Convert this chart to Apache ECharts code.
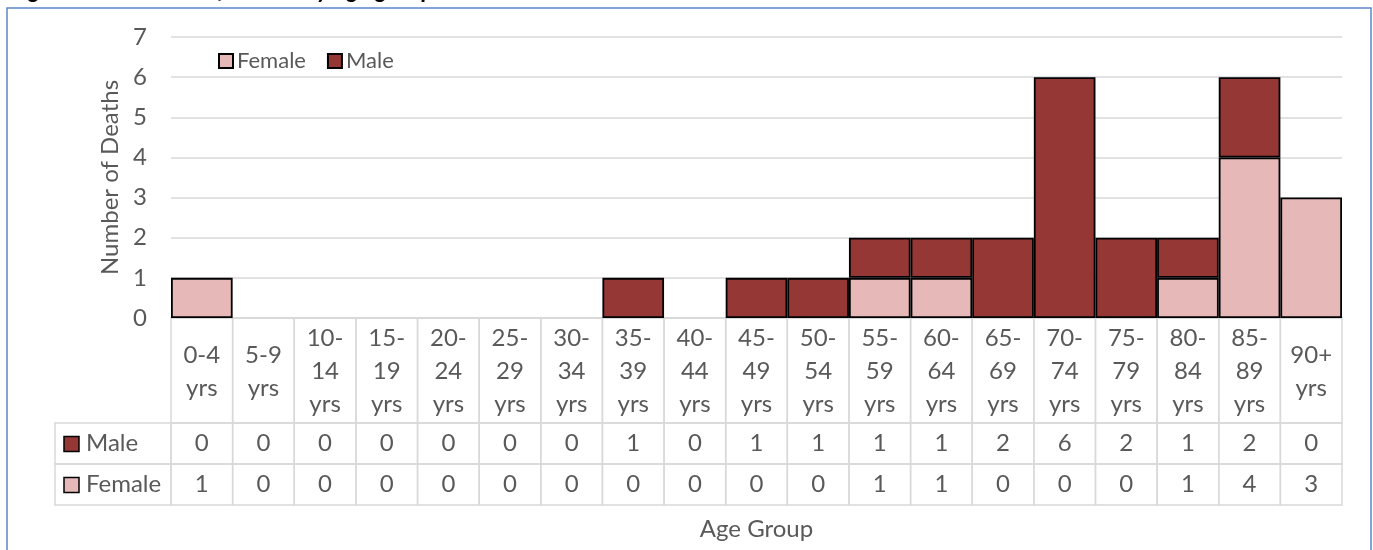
<!DOCTYPE html>
<html>
<head>
<meta charset="utf-8">
<script src="https://cdn.jsdelivr.net/npm/echarts@6/dist/echarts.min.js"></script>
<style>
html,body{margin:0;padding:0;background:#fff;}
#chart{width:1373px;height:550px;}
</style>
</head>
<body>
<div id="chart"></div>
<script>
var categories = ['0-4 yrs','5-9 yrs','10-14 yrs','15-19 yrs','20-24 yrs','25-29 yrs','30-34 yrs','35-39 yrs','40-44 yrs','45-49 yrs','50-54 yrs','55-59 yrs','60-64 yrs','65-69 yrs','70-74 yrs','75-79 yrs','80-84 yrs','85-89 yrs','90+ yrs'];
var male   = [0,0,0,0,0,0,0,1,0,1,1,1,1,2,6,2,1,2,0];
var female = [1,0,0,0,0,0,0,0,0,0,0,1,1,0,0,0,1,4,3];
var yTicks = [0,1,2,3,4,5,6,7];

var FONT = 'Lato';
var FS = 24;
var TXT = '#595959';
var GRIDC = '#D9D9D9';
var MALEC = '#953735';
var FEMC = '#E6B8B7';

function wrapLabel(s) {
  var parts = s.split(' ');
  var r = parts[0];
  if (r.length > 3 && r.indexOf('-') >= 0) {
    var k = r.indexOf('-');
    r = r.slice(0, k + 1) + '\n' + r.slice(k + 1);
  }
  return r + '\n' + parts[1];
}

var chart = echarts.init(document.getElementById('chart'));
var HEAD_H = 105, ROW_H = 41, LEFT_W = 116;

function renderTable(params, api) {
  var i = api.value(0);
  var p = api.coord([i, 0]);
  var w = api.size([1, 0])[0];
  var x0 = p[0] - w / 2, y0 = p[1];
  var lineStyle = {stroke: GRIDC, lineWidth: 1.5, fill: null};
  var textBase = {fontFamily: FONT, fontSize: FS, fill: TXT, align: 'center', verticalAlign: 'middle'};
  var ch = [];
  ch.push({type: 'rect', shape: {x: x0, y: y0, width: w, height: HEAD_H}, style: lineStyle});
  ch.push({type: 'rect', shape: {x: x0, y: y0 + HEAD_H, width: w, height: ROW_H}, style: lineStyle});
  ch.push({type: 'rect', shape: {x: x0, y: y0 + HEAD_H + ROW_H, width: w, height: ROW_H}, style: lineStyle});
  ch.push({type: 'text', style: Object.assign({}, textBase, {x: p[0], y: y0 + HEAD_H / 2 + 1, text: wrapLabel(categories[i]), lineHeight: 33})});
  ch.push({type: 'text', style: Object.assign({}, textBase, {x: p[0], y: y0 + HEAD_H + ROW_H / 2, text: String(api.value(1))})});
  ch.push({type: 'text', style: Object.assign({}, textBase, {x: p[0], y: y0 + HEAD_H + ROW_H * 1.5, text: String(api.value(2))})});
  if (i === 0) {
    var lx = x0 - LEFT_W;
    ch.push({type: 'rect', shape: {x: lx, y: y0 + HEAD_H, width: LEFT_W, height: ROW_H}, style: lineStyle});
    ch.push({type: 'rect', shape: {x: lx, y: y0 + HEAD_H + ROW_H, width: LEFT_W, height: ROW_H}, style: lineStyle});
    var rows = [['Male', MALEC], ['Female', FEMC]];
    rows.forEach(function (r, k) {
      var cy = y0 + HEAD_H + ROW_H * (k + 0.5);
      ch.push({type: 'rect', shape: {x: lx + 9, y: cy - 7, width: 15, height: 15}, style: {fill: r[1], stroke: '#000', lineWidth: 1.5}});
      ch.push({type: 'text', style: {x: lx + 31, y: cy, text: r[0], fontFamily: FONT, fontSize: FS, fill: TXT, align: 'left', verticalAlign: 'middle'}});
    });
  }
  return {type: 'group', children: ch};
}

function nz(a) { return a.map(function (v) { return v === 0 ? '-' : v; }); }

var option = {
  animation: false,
  backgroundColor: '#fff',
  textStyle: {fontFamily: FONT},
  graphic: [
    {type: 'rect', shape: {x: 7, y: 8, width: 1364, height: 600}, style: {fill: null, stroke: '#5B87C8', lineWidth: 1.5}, z: 100},
    {type: 'text', left: 10, top: -22, style: {text: 'Figure 12: Number of deaths by age group and sex', fontFamily: FONT, fontSize: 24, fontWeight: 'bold', fontStyle: 'italic', fill: '#000'}}
  ],
  legend: {
    data: ['Female', 'Male'],
    left: 218, top: 50,
    itemWidth: 14, itemHeight: 14, itemGap: 21,
    padding: 0,
    icon: 'rect',
    textStyle: {fontFamily: FONT, fontSize: 22, color: TXT, padding: [0, 0, 0, -1]}
  },
  grid: {left: 171, right: 31, top: 37, bottom: 232},
  xAxis: {
    type: 'category',
    data: categories,
    axisLabel: {show: false},
    axisTick: {show: false},
    axisLine: {lineStyle: {color: GRIDC, width: 1.5}},
    name: 'Age Group',
    nameLocation: 'middle',
    nameGap: 199,
    nameTextStyle: {fontFamily: FONT, fontSize: FS, color: TXT}
  },
  yAxis: {
    type: 'value',
    min: yTicks[0], max: yTicks[yTicks.length - 1], interval: 1,
    axisLabel: {fontFamily: FONT, fontSize: FS, color: TXT, margin: 24},
    axisLine: {show: false},
    axisTick: {show: false},
    splitLine: {lineStyle: {color: GRIDC, width: 1.5}},
    name: 'Number of Deaths',
    nameLocation: 'middle',
    nameGap: 42,
    nameTextStyle: {fontFamily: FONT, fontSize: FS, color: TXT}
  },
  series: [
    {
      name: 'Female', type: 'bar', stack: 'total', barCategoryGap: '0%',
      data: nz(female),
      itemStyle: {color: FEMC, borderColor: '#000', borderWidth: 1.8},
      z: 3
    },
    {
      name: 'Male', type: 'bar', stack: 'total', barCategoryGap: '0%',
      data: nz(male),
      itemStyle: {color: MALEC, borderColor: '#000', borderWidth: 1.8},
      z: 3
    },
    {
      name: 'table', type: 'custom', clip: false,
      renderItem: renderTable,
      encode: {x: 0, y: 1},
      data: categories.map(function (c, i) { return [i, male[i], female[i]]; }),
      silent: true,
      z: 1
    }
  ]
};
chart.setOption(option);
</script>
</body>
</html>
